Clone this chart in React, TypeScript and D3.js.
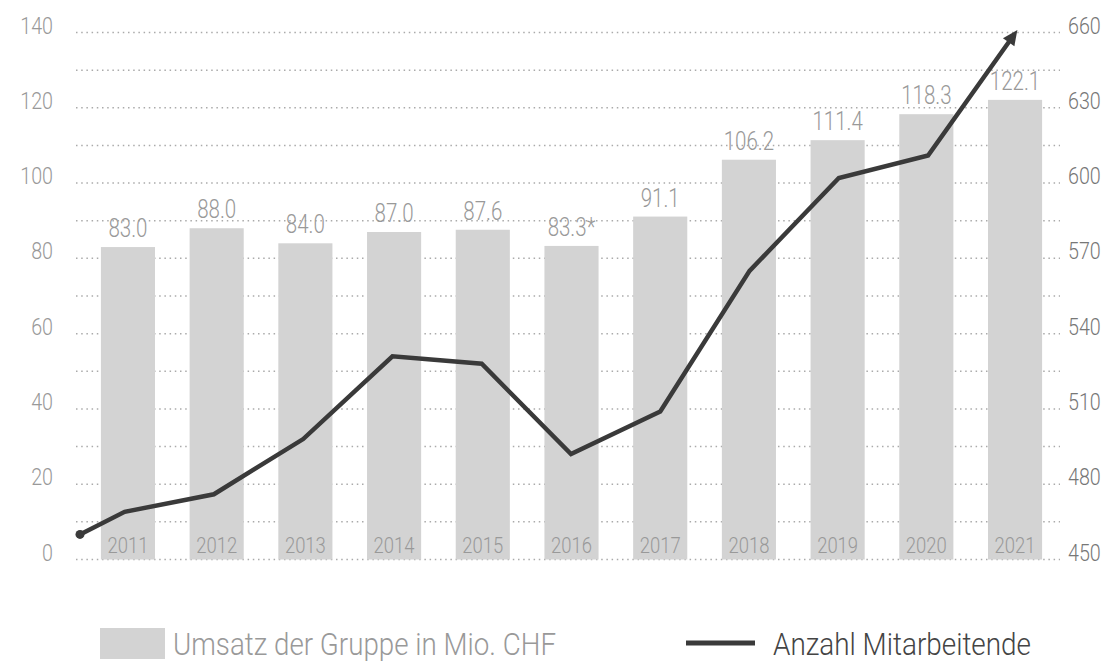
import React, { useEffect, useRef } from 'react';
import * as d3 from 'd3';

// revenue bars (left axis, Mio. CHF)
const years = ['2011', '2012', '2013', '2014', '2015', '2016', '2017', '2018', '2019', '2020', '2021'];
const revenue = [83.0, 88.0, 84.0, 87.0, 87.6, 83.3, 91.1, 106.2, 111.4, 118.3, 122.1];
const revenueLabels = ['83.0', '88.0', '84.0', '87.0', '87.6', '83.3*', '91.1', '106.2', '111.4', '118.3', '122.1'];

// headcount line (right axis); 2010 sits on the left edge of the plot
const staffYears = [2010, 2011, 2012, 2013, 2014, 2015, 2016, 2017, 2018, 2019, 2020, 2021];
const staff = [460, 469, 476, 498, 531, 528, 492, 509, 565, 602, 611, 661];

const leftTicks = [0, 20, 40, 60, 80, 100, 120, 140];
const rightTicks = [450, 480, 510, 540, 570, 600, 630, 660];

const legendBars = 'Umsatz der Gruppe in Mio. CHF';
const legendLine = 'Anzahl Mitarbeitende';

const App = () => {
    const svgRef = useRef<SVGSVGElement>(null);

    useEffect(() => {
        document.body.style.margin = '0';

        const width = 1109;
        const height = 666;
        const plotLeft = 76;
        const plotRight = 1060;
        const plotTop = 32.5;
        const plotBottom = 559.5;

        const grey = '#d3d3d3';
        const dark = '#3a3a3a';
        const font = 'Roboto, sans-serif';

        const svg = d3.select(svgRef.current);
        svg.selectAll('*').remove();
        svg.attr('width', width).attr('height', height);

        // the original uses a condensed face, so squeeze Roboto a bit
        const condense = (sel: any, k = 0.82) => sel.each(function (this: SVGTextElement) {
            this.setAttribute('textLength', String(this.getComputedTextLength() * k));
            this.setAttribute('lengthAdjust', 'spacingAndGlyphs');
        });

        const yLeft = d3.scaleLinear().domain([0, 140]).range([plotBottom, plotTop]);
        const yRight = d3.scaleLinear().domain([450, 660]).range([plotBottom, plotTop]);

        const xBar = d3.scaleBand()
            .domain(years)
            .range([83.6, 1059.4])
            .paddingInner(0.39)
            .paddingOuter(0.195);

        const xLine = d3.scaleLinear()
            .domain([2010.5, 2021.5])
            .range([80, 1062])
            .clamp(true);

        // dotted grid, every 10 units
        svg.append('g')
            .selectAll('line')
            .data(d3.range(0, 141, 10))
            .join('line')
            .attr('x1', plotLeft)
            .attr('x2', plotRight)
            .attr('y1', d => yLeft(d))
            .attr('y2', d => yLeft(d))
            .attr('stroke', '#aaa')
            .attr('stroke-width', 1.5)
            .attr('stroke-dasharray', '1.5 3.7');

        const leftLabels = svg.append('g')
            .selectAll('text')
            .data(leftTicks)
            .join('text')
            .attr('x', 53)
            .attr('y', d => yLeft(d) + 1)
            .attr('text-anchor', 'end')
            .style('font-family', font)
            .style('font-weight', 300)
            .style('font-size', '24px')
            .style('fill', '#999')
            .text(d => d);
        condense(leftLabels);

        const rightLabels = svg.append('g')
            .selectAll('text')
            .data(rightTicks)
            .join('text')
            .attr('x', 1068)
            .attr('y', d => yRight(d) + 1)
            .attr('text-anchor', 'start')
            .style('font-family', font)
            .style('font-weight', 300)
            .style('font-size', '24px')
            .style('fill', '#777')
            .text(d => d);
        condense(rightLabels);

        // bars
        svg.append('g')
            .selectAll('rect')
            .data(years)
            .join('rect')
            .attr('x', d => xBar(d) as number)
            .attr('y', (d, i) => yLeft(revenue[i]))
            .attr('width', xBar.bandwidth())
            .attr('height', (d, i) => yLeft(0) - yLeft(revenue[i]))
            .attr('fill', grey);

        const yearLabels = svg.append('g')
            .selectAll('text')
            .data(years)
            .join('text')
            .attr('x', d => (xBar(d) as number) + xBar.bandwidth() / 2)
            .attr('y', yLeft(0) - 6.5)
            .attr('text-anchor', 'middle')
            .style('font-family', font)
            .style('font-weight', 300)
            .style('font-size', '22.5px')
            .style('fill', '#999')
            .text(d => d);
        condense(yearLabels);

        const valueLabels = svg.append('g')
            .selectAll('text')
            .data(years)
            .join('text')
            .attr('x', d => (xBar(d) as number) + xBar.bandwidth() / 2)
            .attr('y', (d, i) => yLeft(revenue[i]) - 10)
            .attr('text-anchor', 'middle')
            .style('font-family', font)
            .style('font-weight', 300)
            .style('font-size', '25px')
            .style('fill', '#999')
            .text((d, i) => revenueLabels[i]);
        condense(valueLabels);

        // headcount line with a dot at the start and an arrow at the end
        const pts: [number, number][] = staffYears.map((yr, i) => [xLine(yr), yRight(staff[i])]);
        const tip = pts[pts.length - 1];
        const prev = pts[pts.length - 2];
        const len = Math.hypot(tip[0] - prev[0], tip[1] - prev[1]);
        const ux = (tip[0] - prev[0]) / len;
        const uy = (tip[1] - prev[1]) / len;
        const headLen = 15;
        const headHalf = 7;
        const linePts = pts.slice(0, -1).concat([[tip[0] - ux * (headLen - 4), tip[1] - uy * (headLen - 4)]]);

        svg.append('path')
            .attr('d', d3.line()(linePts))
            .attr('fill', 'none')
            .attr('stroke', dark)
            .attr('stroke-width', 4.5)
            .attr('stroke-linejoin', 'miter');

        const bx = tip[0] - ux * headLen;
        const by = tip[1] - uy * headLen;
        svg.append('path')
            .attr('d', `M${tip[0]},${tip[1]}L${bx - uy * headHalf},${by + ux * headHalf}L${bx + uy * headHalf},${by - ux * headHalf}Z`)
            .attr('fill', dark);

        svg.append('circle')
            .attr('cx', pts[0][0])
            .attr('cy', pts[0][1])
            .attr('r', 4.5)
            .attr('fill', dark);

        // legend
        const legend = svg.append('g');
        legend.append('rect')
            .attr('x', 100)
            .attr('y', 628)
            .attr('width', 65)
            .attr('height', 31)
            .attr('fill', grey);
        legend.append('text')
            .attr('x', 173)
            .attr('y', 655)
            .attr('textLength', 383)
            .attr('lengthAdjust', 'spacingAndGlyphs')
            .style('font-family', font)
            .style('font-weight', 300)
            .style('font-size', '31px')
            .style('fill', '#999')
            .text(legendBars);
        legend.append('line')
            .attr('x1', 686)
            .attr('x2', 755)
            .attr('y1', 643)
            .attr('y2', 643)
            .attr('stroke', dark)
            .attr('stroke-width', 5);
        legend.append('text')
            .attr('x', 773)
            .attr('y', 655)
            .attr('textLength', 258)
            .attr('lengthAdjust', 'spacingAndGlyphs')
            .style('font-family', font)
            .style('font-weight', 300)
            .style('font-size', '31px')
            .style('fill', '#444')
            .text(legendLine);
    }, []);

    return (
        <svg ref={svgRef} style={{ display: 'block' }}></svg>
    );
};

export default App;
